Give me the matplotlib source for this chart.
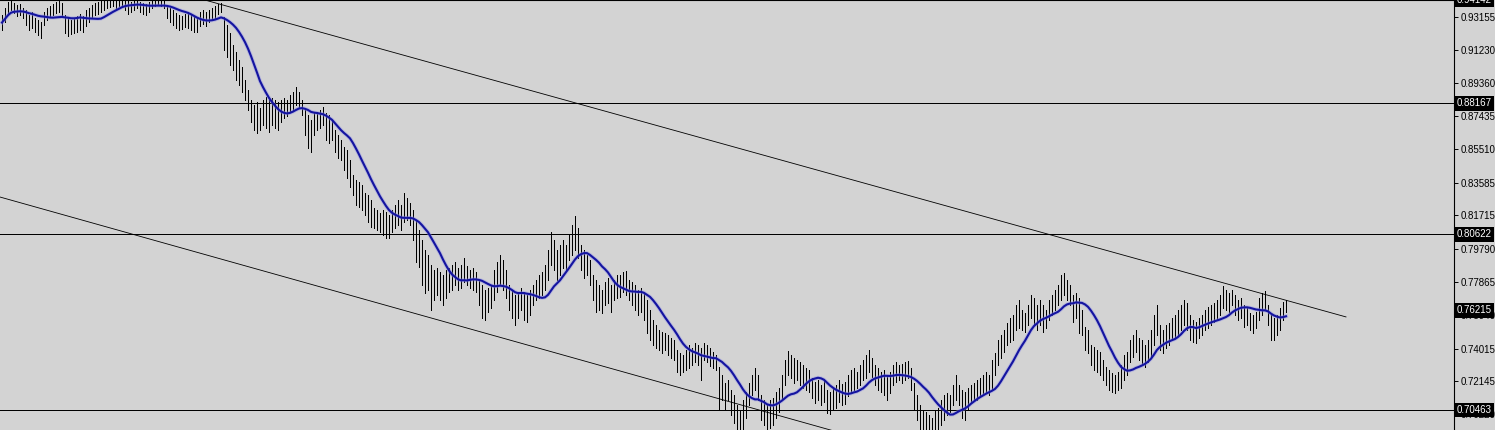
import numpy as np
import pandas as pd
import matplotlib
matplotlib.use("Agg")
import matplotlib.pyplot as plt
import matplotlib.transforms as mtrans

# ---- data (prices in units of 0.0001) ----
high_pips = [
    9327, 9368, 9402, 9414, 9397, 9385, 9391, 9368, 9356, 9327,
    9344, 9310, 9298, 9286, 9344, 9368, 9379, 9391, 9402, 9414,
    9397, 9327, 9310, 9298, 9310, 9321, 9333, 9321, 9356, 9368,
    9385, 9397, 9402, 9414, 9414, 9414, 9414, 9414, 9414, 9414,
    9414, 9414, 9414, 9402, 9414, 9414, 9402, 9397, 9391, 9402,
    9414, 9414, 9414, 9414, 9414, 9385, 9368, 9356, 9339, 9327,
    9321, 9333, 9344, 9333, 9321, 9310, 9344, 9356, 9344, 9356,
    9368, 9379, 9391, 9397, 9316, 9269, 9224, 9154, 9113, 9068,
    9028, 8952, 8894, 8837, 8808, 8825, 8791, 8837, 8854, 8837,
    8848, 8837, 8825, 8837, 8848, 8837, 8865, 8882, 8912, 8882,
    8837, 8791, 8750, 8721, 8767, 8767, 8779, 8797, 8762, 8750,
    8721, 8663, 8634, 8606, 8566, 8548, 8490, 8403, 8375, 8363,
    8346, 8300, 8288, 8259, 8213, 8201, 8184, 8201, 8189, 8172,
    8201, 8230, 8259, 8230, 8300, 8271, 8242, 8201, 8144, 8086,
    8028, 7970, 7941, 7884, 7855, 7867, 7843, 7826, 7855, 7867,
    7884, 7901, 7867, 7884, 7924, 7878, 7855, 7867, 7843, 7797,
    7768, 7739, 7751, 7768, 7855, 7901, 7941, 7913, 7855, 7768,
    7739, 7710, 7727, 7751, 7727, 7710, 7739, 7768, 7797, 7826,
    7843, 7884, 7970, 8074, 8028, 7970, 7999, 8028, 7999, 8057,
    8115, 8166, 8098, 7999, 7970, 7941, 7913, 7826, 7797, 7768,
    7739, 7785, 7809, 7768, 7797, 7826, 7826, 7843, 7849, 7797,
    7785, 7768, 7739, 7751, 7722, 7682, 7624, 7566, 7537, 7508,
    7496, 7491, 7479, 7462, 7451, 7393, 7376, 7364, 7393, 7422,
    7405, 7434, 7422, 7405, 7434, 7422, 7405, 7381, 7364, 7295,
    7248, 7203, 7220, 7162, 7133, 7075, 7046, 7104, 7150, 7203,
    7248, 7289, 7248, 7133, 7104, 7075, 7104, 7116, 7150, 7174,
    7248, 7335, 7387, 7364, 7347, 7335, 7323, 7306, 7289, 7277,
    7231, 7208, 7220, 7191, 7220, 7162, 7150, 7174, 7191, 7220,
    7197, 7208, 7248, 7277, 7289, 7265, 7306, 7335, 7364, 7393,
    7347, 7306, 7289, 7265, 7277, 7248, 7265, 7306, 7323, 7306,
    7312, 7323, 7329, 7289, 7203, 7133, 7075, 7046, 7034, 7017,
    7000, 7046, 7058, 7104, 7133, 7145, 7133, 7191, 7248, 7191,
    7162, 7150, 7174, 7191, 7203, 7220, 7231, 7248, 7265, 7248,
    7335, 7376, 7451, 7479, 7508, 7549, 7578, 7595, 7653, 7682,
    7624, 7607, 7653, 7710, 7693, 7653, 7682, 7653, 7624, 7682,
    7710, 7739, 7768, 7826, 7838, 7797, 7768, 7710, 7722, 7693,
    7624, 7526, 7508, 7422, 7410, 7393, 7381, 7335, 7295, 7277,
    7260, 7248, 7265, 7306, 7364, 7381, 7451, 7479, 7508, 7462,
    7451, 7422, 7451, 7508, 7595, 7653, 7537, 7508, 7537, 7549,
    7578, 7595, 7624, 7653, 7682, 7665, 7595, 7566, 7554, 7578,
    7595, 7624, 7641, 7653, 7665, 7682, 7710, 7762, 7739, 7722,
    7739, 7710, 7682, 7693, 7653, 7636, 7607, 7595, 7612, 7693,
    7722, 7733, 7653, 7595, 7578, 7595, 7636, 7670, 7682,
]
low_pips = [
    9241, 9286, 9333, 9356, 9339, 9321, 9327, 9310, 9269, 9241,
    9252, 9229, 9212, 9195, 9269, 9298, 9321, 9327, 9339, 9344,
    9321, 9224, 9206, 9218, 9224, 9229, 9241, 9229, 9263, 9286,
    9310, 9327, 9333, 9344, 9356, 9368, 9374, 9379, 9368, 9379,
    9385, 9356, 9333, 9344, 9356, 9368, 9344, 9333, 9327, 9344,
    9368, 9379, 9385, 9379, 9368, 9310, 9286, 9269, 9252, 9241,
    9246, 9258, 9252, 9241, 9229, 9229, 9263, 9275, 9263, 9286,
    9298, 9310, 9333, 9344, 9125, 9085, 9039, 9010, 8952, 8923,
    8882, 8837, 8779, 8709, 8663, 8646, 8663, 8692, 8675, 8651,
    8692, 8675, 8663, 8709, 8733, 8744, 8767, 8779, 8808, 8791,
    8750, 8634, 8560, 8536, 8634, 8663, 8675, 8692, 8606, 8589,
    8606, 8536, 8502, 8490, 8432, 8386, 8335, 8288, 8230, 8219,
    8201, 8172, 8132, 8104, 8098, 8086, 8074, 8057, 8040, 8040,
    8074, 8098, 8115, 8086, 8132, 8144, 8115, 8028, 7901, 7873,
    7768, 7722, 7739, 7624, 7682, 7710, 7682, 7653, 7693, 7727,
    7739, 7768, 7739, 7751, 7785, 7768, 7751, 7739, 7727, 7653,
    7578, 7566, 7612, 7636, 7682, 7727, 7768, 7739, 7693, 7624,
    7578, 7537, 7578, 7624, 7566, 7554, 7595, 7653, 7682, 7693,
    7710, 7739, 7797, 7884, 7855, 7797, 7826, 7867, 7855, 7913,
    7941, 7970, 7924, 7855, 7809, 7826, 7768, 7682, 7612, 7624,
    7607, 7653, 7665, 7612, 7682, 7693, 7699, 7727, 7710, 7682,
    7653, 7624, 7595, 7612, 7566, 7491, 7451, 7422, 7405, 7393,
    7376, 7393, 7364, 7347, 7335, 7265, 7248, 7265, 7277, 7289,
    7306, 7323, 7306, 7220, 7335, 7323, 7300, 7289, 7277, 7046,
    7104, 7046, 7104, 7017, 6972, 6931, 6902, 6931, 7000, 7075,
    7133, 7162, 7104, 6989, 6960, 6919, 6943, 6960, 7000, 7034,
    7104, 7191, 7248, 7231, 7203, 7220, 7191, 7174, 7162, 7150,
    7116, 7087, 7104, 7075, 7092, 7029, 7023, 7046, 7058, 7092,
    7075, 7081, 7127, 7150, 7162, 7174, 7191, 7220, 7231, 7265,
    7237, 7191, 7162, 7150, 7133, 7104, 7145, 7191, 7208, 7220,
    7203, 7220, 7231, 7162, 7046, 6989, 6931, 6902, 6902, 6902,
    6873, 6919, 6931, 6960, 6989, 7017, 7034, 7075, 7104, 7075,
    7000, 6989, 7046, 7087, 7104, 7104, 7133, 7145, 7150, 7133,
    7162, 7248, 7306, 7347, 7381, 7422, 7439, 7451, 7508, 7520,
    7508, 7496, 7537, 7578, 7537, 7508, 7537, 7496, 7520, 7566,
    7595, 7624, 7653, 7682, 7710, 7682, 7653, 7554, 7578, 7491,
    7479, 7393, 7376, 7306, 7277, 7265, 7248, 7220, 7191, 7162,
    7150, 7145, 7162, 7174, 7220, 7248, 7323, 7353, 7381, 7335,
    7306, 7295, 7323, 7347, 7422, 7479, 7393, 7376, 7405, 7422,
    7451, 7468, 7479, 7508, 7537, 7508, 7451, 7439, 7434, 7462,
    7479, 7508, 7520, 7537, 7554, 7566, 7595, 7636, 7624, 7612,
    7653, 7595, 7566, 7578, 7526, 7537, 7508, 7491, 7520, 7566,
    7595, 7624, 7537, 7451, 7451, 7479, 7508, 7566, 7612,
]

levels = [0.88167, 0.80622, 0.70463]
last_price = 0.76215
top_price = 0.94142
bottom_price = 0.69310
tick_prices = [0.93155, 0.91230, 0.89360, 0.87435, 0.85510, 0.83585, 0.81715,
               0.79790, 0.77865, 0.75940, 0.74015, 0.72145, 0.70220]
upper_trend_bars = [66, 448]
upper_trend_prices = [0.9422, 0.7584]
lower_trend_bars = [-1, 300]
lower_trend_prices = [0.8278, 0.6815]
ma_period = 13

# ---- drawing ----
BG = "#D3D3D3"
plt.rcParams["font.family"] = ["Liberation Sans", "DejaVu Sans"]

high = np.array(high_pips) / 10000.0
low = np.array(low_pips) / 10000.0
n = len(high)
x = np.arange(n)

fig = plt.figure(figsize=(14.95, 4.30), dpi=100, facecolor=BG)
ax = fig.add_axes([0, 0, 1454 / 1495, 1])
ax.set_facecolor(BG)

ax.vlines(x, low, high, color="black", lw=0.6, antialiased=False, zorder=2)

median = pd.Series((high + low) / 2.0)
ma = median.rolling(ma_period, min_periods=1).mean()
ax.plot(x, ma, color="#9090E8", lw=2.8, alpha=0.45, zorder=3)
ax.plot(x, ma, color="#1414A0", lw=1.5, zorder=3)

for lv in levels:
    ax.axhline(lv, color="black", lw=0.6, antialiased=False, zorder=1)
ax.plot(upper_trend_bars, upper_trend_prices, color="black", lw=0.6, zorder=1)
ax.plot(lower_trend_bars, lower_trend_prices, color="black", lw=0.6, zorder=1)

ax.set_xlim(-2 / 3, 1454 / 3 - 2 / 3)
ax.set_ylim(bottom_price, top_price)

for s in ["left", "bottom"]:
    ax.spines[s].set_visible(False)
for s in ["top", "right"]:
    ax.spines[s].set_color("black")
    ax.spines[s].set_linewidth(0.8)

ax.set_xticks([])
ax.yaxis.tick_right()
ax.set_yticks(tick_prices)
ax.set_yticklabels([f"{v:.5f}" for v in tick_prices])
ax.tick_params(axis="y", length=3, width=0.7, pad=2, labelsize=7, colors="black")

trans = mtrans.blended_transform_factory(ax.transAxes, ax.transData)
for v in levels + [last_price, top_price]:
    ax.text(1.0 + 3 / 1454, v, f"{v:.5f}", transform=trans, va="center", ha="left",
            color="white", fontsize=7, clip_on=False, zorder=6,
            bbox=dict(boxstyle="square,pad=0.25", fc="black", ec="none"))

fig.savefig("out.png", dpi=100, facecolor=BG)
